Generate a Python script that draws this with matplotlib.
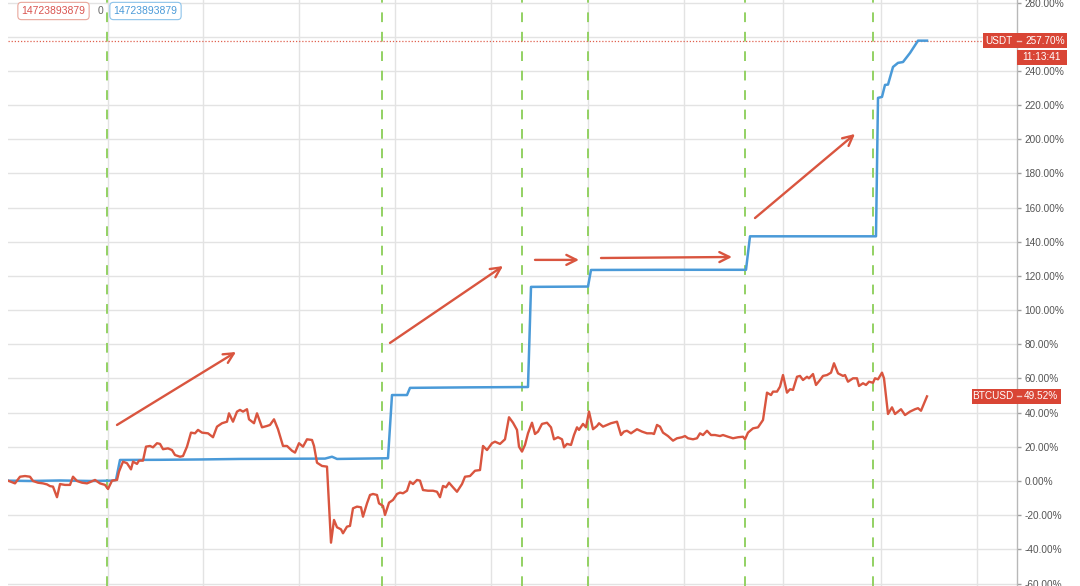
import matplotlib
matplotlib.use('Agg')
import matplotlib.pyplot as plt
from matplotlib.patches import Rectangle
from matplotlib.transforms import IdentityTransform

plt.rcParams['font.family'] = ['Liberation Sans', 'DejaVu Sans']
plt.rcParams['axes.unicode_minus'] = False

# ---------------- data ----------------
btc_x = [8, 15, 20, 25, 30, 33, 38, 43, 47, 50, 53, 57, 60, 65, 70, 73, 77, 82, 87, 95, 100, 105, 108, 112, 117,
         119, 123, 127, 131, 133, 137, 139, 143, 146, 150, 153, 157, 160, 163, 168, 172, 175, 180, 183, 187, 191,
         195, 198, 202, 208, 213, 217, 222, 227, 229, 233, 237, 240, 243, 247, 249, 254, 257, 262, 267, 270, 274,
         278, 283, 287, 292, 295, 299, 303, 307, 312, 314, 317, 322, 327, 331, 334, 337, 341, 343, 347, 350, 353,
         357, 361, 363, 367, 370, 373, 377, 379, 383, 385, 389, 393, 397, 400, 403, 407, 410, 413, 417, 420, 423,
         428, 433, 437, 440, 443, 446, 449, 453, 457, 462, 465, 470, 475, 480, 483, 487, 492, 495, 500, 505, 509,
         513, 517, 519, 522, 525, 528, 532, 535, 538, 542, 547, 551, 554, 558, 562, 564, 567, 571, 574, 577, 579,
         583, 586, 589, 593, 597, 599, 603, 607, 611, 617, 621, 624, 627, 631, 637, 642, 647, 652, 654, 657, 660,
         663, 668, 673, 677, 682, 685, 688, 693, 697, 700, 703, 707, 711, 715, 720, 723, 728, 733, 738, 743, 745,
         748, 753, 758, 763, 767, 771, 773, 777, 780, 783, 787, 790, 793, 797, 800, 803, 807, 809, 813, 816, 820,
         823, 827, 831, 834, 838, 843, 845, 848, 853, 857, 859, 863, 866, 869, 873, 875, 878, 882, 884, 888, 892,
         895, 901, 905, 910, 915, 918, 921, 927]
btc_y = [0.2, -1.4, 2.5, 2.9, 2.5, 0, -1, -1.4, -2, -3, -3.3, -9.5, -1.8, -2.3, -2.3, 2.5, 0, -1, -1.4, 0.6, -1.4,
         -2.3, -4.7, 0.2, 0.6, 5.5, 11.3, 10.4, 6.8, 11.3, 10, 11.9, 11.9, 20.1, 20.5, 19.7, 22.1, 21.7, 18.6, 19.1,
         18.1, 15.2, 14.2, 14.6, 20.1, 28.3, 27.9, 29.9, 28.3, 27.9, 25.6, 31.8, 33.8, 34.7, 39.6, 34.7, 40.6, 41.6,
         40.6, 42, 36.1, 33.8, 39.6, 31.4, 32.2, 32.8, 36.1, 30.3, 20.5, 20.5, 17.7, 16.6, 22.1, 20.1, 24.4, 24,
         20.5, 10.7, 8.8, 8.4, -36.1, -22.8, -27.1, -28.3, -30.6, -26.7, -26.3, -16, -15, -15.4, -20.9, -13.1,
         -8.2, -7.6, -8.2, -13.1, -14.6, -19.9, -12.7, -11.1, -7.6, -6.8, -7.2, -5.7, -0.4, -1.8, 0.6, 0.2, -5.3,
         -5.7, -5.7, -6.3, -9.5, -2.9, -3.7, -1, -3.7, -6.3, -1.8, 2.5, 2.9, 6, 6.4, 20.5, 18.1, 22.1, 23, 21.7,
         24.4, 37.3, 34.1, 29.9, 20.1, 17.2, 21.1, 27.9, 34.1, 27.5, 28.9, 33.4, 34.1, 31.4, 24.4, 25.6, 24.4,
         19.7, 21.7, 21.1, 26.9, 31.4, 29.9, 33.4, 31.4, 40.6, 30.3, 32.2, 33.8, 31.8, 32.8, 33.8, 34.7, 26.9,
         28.9, 29.4, 27.9, 30.3, 28.9, 27.9, 27.9, 27.5, 32.8, 31.8, 28.3, 26.3, 23.6, 25, 25.6, 26.3, 25, 24.4,
         25, 27.9, 26.9, 29.4, 26.9, 26.9, 26.3, 26.9, 25.9, 25, 25.6, 25.9, 24.4, 28.3, 30.8, 31.4, 35.7, 51.7,
         50.3, 52.3, 52.3, 55.2, 62, 51.7, 53.7, 53.3, 61, 61.5, 59.1, 61, 60.1, 62.6, 56.2, 59.1, 61.5, 62, 63.4,
         68.9, 63, 61.5, 62, 58.1, 60.1, 60.1, 55.6, 57.2, 56.2, 58.1, 57.5, 60.1, 59.5, 63.4, 60.1, 39.2, 43.1,
         39.2, 42, 38.6, 40.6, 42, 42.6, 41.1, 49.52]

usdt_x = [8, 30, 60, 90, 112, 116, 120, 160, 200, 240, 280, 325, 332, 337, 388, 392, 407, 410, 470, 528, 531,
          588, 591, 660, 746, 750, 810, 876, 878, 882, 885, 888, 893, 898, 903, 910, 918, 927]
usdt_y = [0.2, 0.0, 0.3, 0.0, 0.2, 0.6, 12.3, 12.4, 12.6, 12.9, 13.0, 13.1, 14.2, 12.9, 13.3, 50.3, 50.3, 54.5,
          54.8, 55.0, 113.6, 113.8, 123.5, 123.6, 123.6, 143.2, 143.2, 143.2, 224.2, 224.8, 231.8, 232.0, 242.3,
          244.7, 245.2, 250.5, 257.7, 257.7]

usdt_last = 257.70
btc_last = 49.52
clock_text = "11:13:41"
legend_text = "14723893879"

y_ticks = list(range(-60, 281, 20))
grid_x = [108, 203, 299, 395, 491, 588, 684, 783, 881, 977]
marker_x = [107, 382, 522, 588, 745, 873]
arrows = [((117, 32.8), (236, 75.5)),
          ((390, 80.8), (503, 125.8)),
          ((535, 129.4), (579, 129.4)),
          ((601, 130.5), (732, 131.1)),
          ((755, 153.9), (855, 203.1))]

# ---------------- style ----------------
RED = '#d9553f'
BLUE = '#4a9ad8'
LABEL_RED = '#d94535'
GRID = '#e3e3e3'
GREEN = '#93d163'

W, H = 1080, 586
fig = plt.figure(figsize=(W / 100, H / 100), dpi=100)
ax = fig.add_axes([8 / W, 0, (1017 - 8) / W, 1])
ax.set_xlim(8, 1017)
ax.set_ylim(-61.46, 281.5)

for s in ['top', 'left', 'bottom']:
    ax.spines[s].set_visible(False)
ax.spines['right'].set_color('#b8b8b8')
ax.spines['right'].set_linewidth(1)

ax.yaxis.tick_right()
ax.set_yticks(y_ticks)
ax.set_yticklabels([f"{v:.2f}%" for v in y_ticks])
ax.tick_params(axis='y', direction='out', length=3, width=1, color='#a0a0a0',
               labelsize=7.2, labelcolor='#555555', pad=2.5)
ax.set_xticks(grid_x)
ax.set_xticklabels([])
ax.tick_params(axis='x', length=0)
ax.grid(True, color=GRID, lw=1)
ax.set_axisbelow(True)

for x in marker_x:
    ax.axvline(x, color=GREEN, ls=(0, (5, 5)), lw=1.4, zorder=1)

ax.axhline(usdt_last, color='#e0604f', ls=(0, (1, 1.5)), lw=0.9, zorder=2)

ax.plot(usdt_x, usdt_y, color=BLUE, lw=1.8, zorder=3, solid_joinstyle='round')
ax.plot(btc_x, btc_y, color=RED, lw=1.7, zorder=4, solid_joinstyle='round')

for (x0, y0), (x1, y1) in arrows:
    ax.annotate('', xy=(x1, y1), xytext=(x0, y0),
                arrowprops=dict(arrowstyle='->', color=RED, lw=1.7, mutation_scale=18,
                                shrinkA=0, shrinkB=0), zorder=5)

# ---------------- price labels on the right ----------------
fig.canvas.draw()


def ydisp(v):
    return ax.transData.transform((0, v))[1]


def red_box(x0, x1, yc, h=15):
    fig.patches.append(Rectangle((x0, yc - h / 2), x1 - x0, h, transform=IdentityTransform(),
                                 facecolor=LABEL_RED, edgecolor='none', zorder=10))


yu = ydisp(usdt_last)
red_box(983, 1067, yu)
fig.text(1013 / W, yu / H, "USDT", ha='right', va='center', color='white', fontsize=7.2, zorder=11)
fig.text(1025 / W, yu / H, f"{usdt_last:.2f}%", ha='left', va='center', color='white', fontsize=7.2, zorder=11)
fig.lines.append(plt.Line2D([1017 / W, 1021 / W], [yu / H, yu / H], transform=fig.transFigure,
                            color='#f3c4bc', lw=1, zorder=12))
red_box(1017, 1067, yu - 16.5)
fig.text(1042 / W, (yu - 16.5) / H, clock_text, ha='center', va='center', color='white', fontsize=7.2, zorder=11)

yb = ydisp(btc_last)
red_box(972, 1061, yb)
fig.text(1013 / W, yb / H, "BTCUSD", ha='right', va='center', color='white', fontsize=7.2, zorder=11)
fig.text(1024 / W, yb / H, f"{btc_last:.2f}%", ha='left', va='center', color='white', fontsize=7.2, zorder=11)
fig.lines.append(plt.Line2D([1017 / W, 1021 / W], [yb / H, yb / H], transform=fig.transFigure,
                            color='#f3c4bc', lw=1, zorder=12))

# ---------------- legend boxes top-left ----------------
ly = (H - 11) / H
fig.text(53.5 / W, ly, legend_text, ha='center', va='center', color='#d9534f', fontsize=7.5,
         bbox=dict(boxstyle='round,pad=0.35', fc='white', ec='#e9a79c', lw=0.8), zorder=11)
fig.text(100 / W, ly, "0", ha='center', va='center', color='#666666', fontsize=7.5, zorder=11)
fig.text(145.5 / W, ly, legend_text, ha='center', va='center', color='#4a9ad8', fontsize=7.5,
         bbox=dict(boxstyle='round,pad=0.35', fc='white', ec='#8cc3ea', lw=0.8), zorder=11)

fig.savefig('out.png', dpi=100)
